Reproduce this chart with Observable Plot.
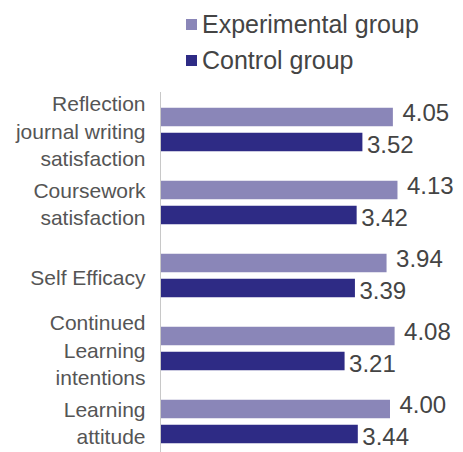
<!DOCTYPE html>
<html>
<head>
<meta charset="utf-8">
<script src="https://cdn.jsdelivr.net/npm/d3@7"></script>
<script src="https://cdn.jsdelivr.net/npm/@observablehq/plot@0.6"></script>
<style>
  body { margin: 0; background: #fff; font-family: "Liberation Sans", Arial, sans-serif; }
  #legend { height: 80px; box-sizing: border-box; padding: 6px 0 0 186px; }
  .item { display: flex; align-items: center; height: 36px; font-size: 25px; color: #444; }
  .sw { width: 11px; height: 11px; margin-right: 5px; flex: none; }
</style>
</head>
<body>
<div id="legend"></div>
<div id="chart"></div>
<script>
// Survey scores by measure, experimental vs control group
const categories = [
  "Reflection\njournal writing\nsatisfaction",
  "Coursework\nsatisfaction",
  "Self Efficacy",
  "Continued\nLearning\nintentions",
  "Learning\nattitude"
];
const series = ["Experimental group", "Control group"];
const experimental = [4.05, 4.13, 3.94, 4.08, 4.00];
const control = [3.52, 3.42, 3.39, 3.21, 3.44];
const colors = ["#8a86b8", "#2e2b85"];

const expRows = categories.map((c, i) => ({category: c, series: series[0], value: experimental[i]}));
const ctlRows = categories.map((c, i) => ({category: c, series: series[1], value: control[i]}));

// Legend
const legend = document.getElementById("legend");
series.forEach((s, i) => {
  const item = document.createElement("div");
  item.className = "item";
  const sw = document.createElement("span");
  sw.className = "sw";
  sw.style.background = colors[i];
  item.appendChild(sw);
  item.appendChild(document.createTextNode(s));
  legend.appendChild(item);
});

const chart = Plot.plot({
  width: 463,
  height: 372,
  marginLeft: 160,
  marginRight: 15.5,
  marginTop: 12,
  marginBottom: 0,
  style: {fontFamily: "'Liberation Sans', Arial, sans-serif", background: "#fff"},
  x: {domain: [0, 5], axis: null},
  y: {domain: categories, range: [11.25, 378.75], padding: 0, axis: null},
  marks: [
    Plot.barX(expRows, {x: "value", y: "category", fill: colors[0], insetTop: 14.75, insetBottom: 39.75}),
    Plot.barX(ctlRows, {x: "value", y: "category", fill: colors[1], insetTop: 39.75, insetBottom: 14.75}),
    Plot.ruleX([0], {stroke: "#c8c8c8"}),
    Plot.text(expRows, {x: "value", y: "category", text: d => d.value.toFixed(2), textAnchor: "start", dx: 9, dy: -17, fontSize: 24, fill: "#444"}),
    Plot.text(ctlRows, {x: "value", y: "category", text: d => d.value.toFixed(2), textAnchor: "start", dx: 4, dy: 15, fontSize: 24, fill: "#444"}),
    Plot.text(categories, {y: d => d, text: d => d, frameAnchor: "left", textAnchor: "end", dx: -15, fontSize: 21, lineHeight: 1.3, fill: "#555"})
  ]
});
document.getElementById("chart").appendChild(chart);
</script>
</body>
</html>
